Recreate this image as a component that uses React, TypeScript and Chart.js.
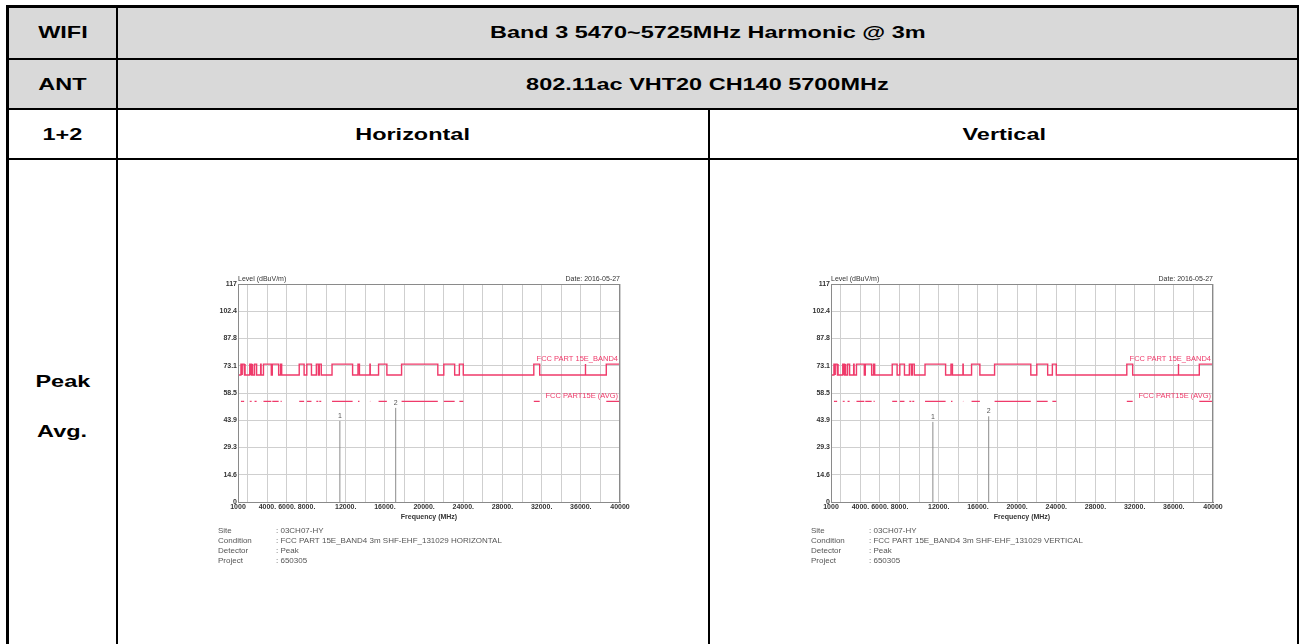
import React, { useEffect, useRef } from "react";
import { Chart, registerables } from "chart.js";

Chart.register(...registerables);

// FCC restricted bands (MHz) inside the 1 GHz – 40 GHz sweep
const bandStart = [1300, 1435, 1645.5, 1660, 1718.8, 2200, 2310, 2483.5, 2690, 3260, 3332, 3345.8, 3600, 4500, 5350, 7250, 8025, 9000, 9300, 10600, 13250, 14470, 15350, 17700, 22010, 23600, 31200, 36430, 38600];
const bandEnd = [1427, 1626.5, 1646.5, 1710, 1722.2, 2300, 2390, 2500, 2900, 3267, 3339, 3358, 4400, 5150, 5460, 7750, 8500, 9200, 9500, 12700, 13400, 14500, 16200, 21400, 23120, 24000, 31800, 36500, 40000];
const peakLimitRestricted = 74;
const peakLimitOther = 68.2;
const avgLimit = 54;
const freqMin = 1000;
const freqMax = 40000;

const markerFreqH = [11400, 17100];
const markerLevelH = [43.5, 50.5];
const markerFreqV = [11400, 17100];
const markerLevelV = [43.0, 46.0];
const markerNames = ["1", "2"];

const yTickValues = [0, 14.6, 29.3, 43.9, 58.5, 73.1, 87.8, 102.4, 117];
const yTickLabels = ["0", "14.6", "29.3", "43.9", "58.5", "73.1", "87.8", "102.4", "117"];
const xGridValues = [1000, 2000, 4000, 6000, 8000, 10000, 12000, 14000, 16000, 18000, 20000, 22000, 24000, 26000, 28000, 30000, 32000, 34000, 36000, 38000, 40000];
const xLabelValues = [1000, 4000, 6000, 8000, 12000, 16000, 20000, 24000, 28000, 32000, 36000, 40000];
const xLabelTexts = ["1000", "4000.", "6000.", "8000.", "12000.", "16000.", "20000.", "24000.", "28000.", "32000.", "36000.", "40000"];

const footerKeys = ["Site", "Condition", "Detector", "Project"];
const footerValuesH = [": 03CH07-HY", ": FCC PART 15E_BAND4 3m SHF-EHF_131029 HORIZONTAL", ": Peak", ": 650305"];
const footerValuesV = [": 03CH07-HY", ": FCC PART 15E_BAND4 3m SHF-EHF_131029 VERTICAL", ": Peak", ": 650305"];

const FONT = "'Liberation Sans', Arial, sans-serif";
const RED = "#ef3a6a";

function buildPeakLimit() {
  const pts: { x: number; y: number }[] = [{ x: freqMin, y: peakLimitOther }];
  for (let i = 0; i < bandStart.length; i++) {
    pts.push({ x: bandStart[i], y: peakLimitOther });
    pts.push({ x: bandStart[i], y: peakLimitRestricted });
    pts.push({ x: bandEnd[i], y: peakLimitRestricted });
    if (bandEnd[i] < freqMax) pts.push({ x: bandEnd[i], y: peakLimitOther });
  }
  return pts;
}

function buildAvgLimit() {
  const pts: { x: number; y: number | null }[] = [];
  for (let i = 0; i < bandStart.length; i++) {
    pts.push({ x: bandStart[i], y: avgLimit });
    pts.push({ x: bandEnd[i], y: avgLimit });
    pts.push({ x: bandEnd[i], y: null });
  }
  return pts;
}

function buildMarkers(freqs: number[], levels: number[]) {
  const pts: { x: number; y: number | null }[] = [];
  for (let i = 0; i < freqs.length; i++) {
    pts.push({ x: freqs[i], y: 0 });
    pts.push({ x: freqs[i], y: levels[i] });
    pts.push({ x: freqs[i], y: null });
  }
  return pts;
}

function SpectrumChart(props: { left: number; top: number; freqs: number[]; levels: number[]; footer: string[] }) {
  const ref = useRef<HTMLCanvasElement | null>(null);
  useEffect(() => {
    if (!ref.current) return;
    const { freqs, levels, footer } = props;
    const textPlugin = {
      id: "emiText",
      afterDatasetsDraw(chart: any) {
        const ctx = chart.ctx;
        const a = chart.chartArea;
        const xs = chart.scales.x;
        const ys = chart.scales.y;
        ctx.save();
        ctx.strokeStyle = "#8a8a8a";
        ctx.lineWidth = 1;
        ctx.strokeRect(a.left + 0.5, a.top + 0.5, a.right - a.left - 1, a.bottom - a.top);
        ctx.textBaseline = "middle";
        ctx.fillStyle = "#333";
        ctx.font = `7px ${FONT}`;
        ctx.textAlign = "left";
        ctx.fillText("Level (dBuV/m)", a.left, a.top - 5);
        ctx.textAlign = "right";
        ctx.fillText("Date: 2016-05-27", a.right, a.top - 5);
        ctx.fillStyle = RED;
        ctx.font = `7.5px ${FONT}`;
        ctx.fillText("FCC PART 15E_BAND4", a.right - 2, ys.getPixelForValue(peakLimitRestricted) - 5);
        ctx.fillText("FCC PART15E (AVG)", a.right - 2, ys.getPixelForValue(avgLimit) - 5);
        ctx.fillStyle = "#555";
        ctx.font = `7px ${FONT}`;
        ctx.textAlign = "center";
        for (let i = 0; i < freqs.length; i++) {
          ctx.fillText(markerNames[i], xs.getPixelForValue(freqs[i]), ys.getPixelForValue(levels[i]) - 5);
        }
        ctx.fillStyle = "#333";
        ctx.font = `bold 7px ${FONT}`;
        ctx.fillText("Frequency (MHz)", (a.left + a.right) / 2, a.bottom + 15);
        ctx.font = `8px ${FONT}`;
        ctx.fillStyle = "#555";
        ctx.textAlign = "left";
        for (let i = 0; i < footerKeys.length; i++) {
          const y = a.bottom + 29 + i * 9.8;
          ctx.fillText(footerKeys[i], a.left - 20, y);
          ctx.fillText(footer[i], a.left + 38, y);
        }
        ctx.restore();
      },
    };
    const chart = new Chart(ref.current, {
      type: "line",
      data: {
        datasets: [
          {
            label: "FCC PART 15E_BAND4",
            data: buildPeakLimit(),
            borderColor: RED,
            borderWidth: 1.4,
            pointRadius: 0,
            tension: 0,
          },
          {
            label: "FCC PART15E (AVG)",
            data: buildAvgLimit(),
            borderColor: RED,
            borderWidth: 1.2,
            pointRadius: 0,
            spanGaps: false,
            tension: 0,
          },
          {
            label: "Markers",
            data: buildMarkers(freqs, levels),
            borderColor: "#8c8c8c",
            borderWidth: 1,
            pointRadius: 0,
            spanGaps: false,
            tension: 0,
          },
        ],
      } as any,
      options: {
        animation: false,
        responsive: false,
        devicePixelRatio: 1,
        layout: { padding: { left: 15, top: 16, right: 25, bottom: 64 } },
        plugins: { legend: { display: false }, tooltip: { enabled: false }, title: { display: false } },
        scales: {
          x: {
            type: "linear",
            min: freqMin,
            max: freqMax,
            afterBuildTicks: (s: any) => {
              s.ticks = xGridValues.map((v) => ({ value: v }));
            },
            afterFit: (s: any) => {
              s.height = 22;
            },
            ticks: {
              autoSkip: false,
              maxRotation: 0,
              minRotation: 0,
              padding: 1,
              color: "#333",
              font: { size: 7, family: FONT, weight: "bold" },
              callback: (v: any) => {
                const idx = xLabelValues.indexOf(Number(v));
                return idx >= 0 ? xLabelTexts[idx] : "";
              },
            },
            grid: { color: "#cfcfcf", lineWidth: 1, drawTicks: false },
            border: { display: true, color: "#777" },
          },
          y: {
            type: "linear",
            min: 0,
            max: 117,
            afterBuildTicks: (s: any) => {
              s.ticks = yTickValues.map((v) => ({ value: v }));
            },
            afterFit: (s: any) => {
              s.width = 28;
            },
            ticks: {
              autoSkip: false,
              padding: 1,
              color: "#333",
              font: { size: 7, family: FONT, weight: "bold" },
              callback: (_v: any, i: number) => yTickLabels[i],
            },
            grid: { color: "#cfcfcf", lineWidth: 1, drawTicks: false },
            border: { display: true, color: "#777" },
          },
        },
      } as any,
      plugins: [textPlugin],
    });
    return () => chart.destroy();
  }, []);
  return (
    <canvas
      ref={ref}
      width={450}
      height={320}
      style={{ position: "absolute", left: props.left, top: props.top, width: 450, height: 320 }}
    />
  );
}

const headerFont: React.CSSProperties = {
  position: "absolute",
  fontFamily: FONT,
  fontWeight: "bold",
  fontSize: 17,
  color: "#000",
  display: "flex",
  alignItems: "center",
  justifyContent: "center",
};

function Line(p: { x: number; y: number; w: number; h: number }) {
  return <div style={{ position: "absolute", left: p.x, top: p.y, width: p.w, height: p.h, background: "#000" }} />;
}

function Cell(p: { x: number; y: number; w: number; h: number; text: string }) {
  return (
    <div style={{ ...headerFont, left: p.x, top: p.y, width: p.w, height: p.h }}>
      <span style={{ display: "inline-block", transform: "scaleX(1.38)", whiteSpace: "nowrap" }}>{p.text}</span>
    </div>
  );
}

export default function App() {
  return (
    <div style={{ position: "absolute", left: 0, top: 0, width: 1300, height: 644, overflow: "hidden", background: "#fff" }}>
      <div style={{ position: "absolute", left: 9, top: 7, width: 1288, height: 102, background: "#d9d9d9" }} />
      <Cell x={9} y={7} w={107} h={52} text="WIFI" />
      <Cell x={118} y={7} w={1179} h={52} text="Band 3 5470~5725MHz Harmonic @ 3m" />
      <Cell x={9} y={61} w={107} h={48} text="ANT" />
      <Cell x={118} y={61} w={1179} h={48} text="802.11ac VHT20 CH140 5700MHz" />
      <Cell x={9} y={111} w={107} h={48} text="1+2" />
      <Cell x={118} y={111} w={590} h={48} text="Horizontal" />
      <Cell x={711} y={111} w={586} h={48} text="Vertical" />
      <Cell x={9} y={364} w={107} h={36} text="Peak" />
      <Cell x={9} y={414} w={107} h={36} text="Avg." />
      <SpectrumChart left={195} top={268} freqs={markerFreqH} levels={markerLevelH} footer={footerValuesH} />
      <SpectrumChart left={788} top={268} freqs={markerFreqV} levels={markerLevelV} footer={footerValuesV} />
      <Line x={6} y={5} w={1293} h={3} />
      <Line x={6} y={5} w={3} h={700} />
      <Line x={1297} y={5} w={2} h={700} />
      <Line x={6} y={58} w={1293} h={2} />
      <Line x={6} y={108} w={1293} h={2} />
      <Line x={6} y={158} w={1293} h={2} />
      <Line x={116} y={5} w={2} h={700} />
      <Line x={708} y={108} w={2} h={600} />
    </div>
  );
}
